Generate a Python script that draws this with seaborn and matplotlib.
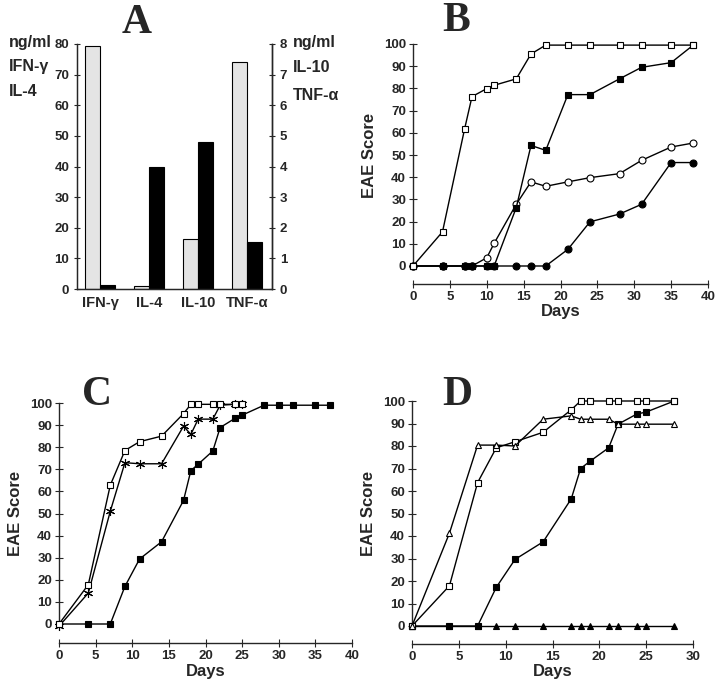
import pandas as pd
import matplotlib.pyplot as plt
import seaborn as sns
import numpy as np

# --- data ---
# Panel A: cytokines (left scale ng/ml 0-80; right scale 0-8 for IL-10, TNF-a, drawn x10)
cytokines = ['IFN-γ', 'IL-4', 'IL-10', 'TNF-α']
light_vals = [79.5, 0.9, 16.3, 74.2]
dark_vals = [1.4, 39.7, 48.0, 15.2]

# Panel B
b_days = [0, 4, 7, 8, 10, 11, 14, 16, 18, 21, 24, 28, 31, 35, 38]
b_open_sq = [0, 15.4, 61.8, 76.3, 79.9, 81.4, 84.3, 95.5, 99.5, 99.5, 99.5, 99.5, 99.5, 99.5, 99.5]
b_fill_sq = [0, 0, 0, 0, 0, 0, 26.3, 54.3, 52.1, 77.2, 77.2, 84.3, 89.5, 91.6, 99.5]
b_open_ci = [0, 0, 0, 0, 3.7, 10.2, 27.8, 37.9, 35.9, 37.9, 39.8, 41.6, 47.6, 53.6, 55.4]
b_fill_ci = [0, 0, 0, 0, 0, 0, 0, 0, 0, 7.5, 19.9, 23.4, 27.8, 46.6, 46.6]

# Panel C
c_days_sq = [0, 4, 7, 9, 11, 14, 17, 18, 19, 21, 22, 24, 25]
c_open_sq = [0, 17.8, 62.8, 78.5, 82.5, 85.0, 95.2, 99.4, 99.4, 99.4, 99.4, 99.4, 99.4]
c_days_st = [0, 4, 7, 9, 11, 14, 17, 18, 19, 21, 22, 24, 25]
c_star = [-1, 14.0, 51.0, 73.0, 72.5, 72.5, 89.5, 85.8, 92.7, 92.7, 99.0, 99.4, 99.4]
c_days_fs = [0, 4, 7, 9, 11, 14, 17, 18, 19, 21, 22, 24, 25, 28, 30, 32, 35, 37]
c_fill_sq = [0, 0, 0, 17.0, 29.4, 37.2, 55.9, 69.4, 72.3, 78.3, 88.9, 93.0, 94.5, 99.0, 99.0, 99.0, 99.0, 99.0]

# Panel D
d_days = [0, 4, 7, 9, 11, 14, 17, 18, 19, 21, 22, 24, 25, 28]
d_open_tri = [0, 41.3, 80.4, 80.4, 80.0, 91.9, 93.4, 91.9, 91.9, 91.9, 89.7, 89.7, 89.7, 89.7]
d_open_sq = [0, 17.9, 63.7, 79.2, 81.9, 86.1, 96.1, 100, 100, 100, 100, 100, 100, 100]
d_fill_sq = [0, 0, 0, 17.2, 29.6, 37.4, 56.5, 70.0, 73.2, 79.2, 89.7, 94.2, 95.1, 100]
d_fill_tri = [0, 0, 0, 0, 0, 0, 0, 0, 0, 0, 0, 0, 0, 0]

sns.set_style('ticks')
plt.rcParams['font.family'] = ['Liberation Sans Narrow', 'Liberation Sans', 'DejaVu Sans']
plt.rcParams['font.weight'] = 'bold'

W, H = 720, 693
fig = plt.figure(figsize=(7.2, 6.93), dpi=100)


def px_axes(left, right, top, bottom):
    return fig.add_axes([left / W, 1 - bottom / H, (right - left) / W, (bottom - top) / H])


tick_fs = 9.5
lab_fs = 12

# ---------- Panel A ----------
axA = px_axes(77, 272, 44, 289)
dfA = pd.DataFrame({
    'cytokine': cytokines * 2,
    'group': ['light'] * 4 + ['dark'] * 4,
    'value': light_vals + dark_vals,
})
sns.barplot(data=dfA, x='cytokine', y='value', hue='group', ax=axA,
            palette={'light': '#e4e4e4', 'dark': 'black'}, width=0.6,
            edgecolor='black', linewidth=0.8, legend=False)
axA.set_xlim(-0.47, 3.51)
axA.set_ylim(0, 80)
axA.set_yticks(range(0, 81, 10))
axA.set_xlabel('')
axA.set_ylabel('')
axA.tick_params(axis='x', length=0, labelsize=10.5, pad=5)
axA.tick_params(axis='y', direction='inout', length=5, width=0.8, labelsize=tick_fs, pad=3)
for lab in axA.get_xticklabels() + axA.get_yticklabels():
    lab.set_fontweight('bold')
axA.spines['top'].set_visible(False)
for s in ['left', 'bottom', 'right']:
    axA.spines[s].set_linewidth(1.0)
axA2 = axA.twinx()
axA2.set_ylim(0, 8)
axA2.set_yticks(range(0, 9))
axA2.tick_params(axis='y', direction='inout', length=5, width=0.8, labelsize=tick_fs, pad=3)
for lab in axA2.get_yticklabels():
    lab.set_fontweight('bold')
axA2.spines['top'].set_visible(False)
axA2.spines['right'].set_linewidth(1.0)

for txt, y in [('ng/ml', 42), ('IFN-γ', 67), ('IL-4', 91)]:
    fig.text(9 / W, 1 - y / H, txt, fontsize=11.5, fontweight='bold', va='center', ha='left')
for txt, y in [('ng/ml', 42), ('IL-10', 67), ('TNF-α', 95)]:
    fig.text(293 / W, 1 - y / H, txt, fontsize=11.5, fontweight='bold', va='center', ha='left')


def style_line_axes(ax, xmax, xstep):
    ax.set_xlim(0, xmax)
    ax.set_ylim(0, 100)
    ax.set_xticks(range(0, xmax + 1, xstep))
    ax.set_yticks(range(0, 101, 10))
    ax.spines['top'].set_visible(False)
    ax.spines['right'].set_visible(False)
    ax.spines['bottom'].set_position(('outward', 13))
    ax.spines['left'].set_linewidth(1.0)
    ax.spines['bottom'].set_linewidth(1.0)
    ax.tick_params(direction='inout', length=6, width=0.8, labelsize=tick_fs, pad=2)
    for lab in ax.get_xticklabels() + ax.get_yticklabels():
        lab.set_fontweight('bold')
    ax.set_xlabel('Days', fontsize=lab_fs, fontweight='bold', labelpad=1)
    ax.set_ylabel('EAE Score', fontsize=lab_fs, fontweight='bold', labelpad=5)


def series(ax, x, y, marker, face, ms=5):
    sns.lineplot(x=x, y=y, ax=ax, sort=False, estimator=None, errorbar=None,
                 color='black', linewidth=1.0, marker=marker, markersize=ms,
                 markerfacecolor=face, markeredgecolor='black', markeredgewidth=0.8,
                 clip_on=False, zorder=3)


# ---------- Panel B ----------
axB = px_axes(413, 708, 44, 266)
series(axB, b_days, b_fill_ci, 'o', 'black')
series(axB, b_days, b_open_ci, 'o', 'white')
series(axB, b_days, b_fill_sq, 's', 'black')
series(axB, b_days, b_open_sq, 's', 'white')
style_line_axes(axB, 40, 5)

# ---------- Panel C ----------
axC = px_axes(59, 352, 403, 624)
series(axC, c_days_fs, c_fill_sq, 's', 'black')
series(axC, c_days_st, c_star, (6, 2, 0), 'none', ms=6.5)
series(axC, c_days_sq, c_open_sq, 's', 'white')
style_line_axes(axC, 40, 5)
axC.spines['bottom'].set_position(('outward', 14))

# ---------- Panel D ----------
axD = px_axes(412, 693, 401, 626)
series(axD, d_days, d_fill_tri, '^', 'black')
series(axD, d_days, d_fill_sq, 's', 'black')
series(axD, d_days, d_open_sq, 's', 'white')
series(axD, d_days, d_open_tri, '^', 'white')
style_line_axes(axD, 30, 5)

# panel letters
for letter, x, y in [('A', 137, 23), ('B', 456, 21), ('C', 97, 395), ('D', 457, 395)]:
    fig.text(x / W, 1 - y / H, letter, fontsize=30, fontweight='bold',
             family='Liberation Serif', ha='center', va='center')

fig.savefig('out.png', dpi=100)
